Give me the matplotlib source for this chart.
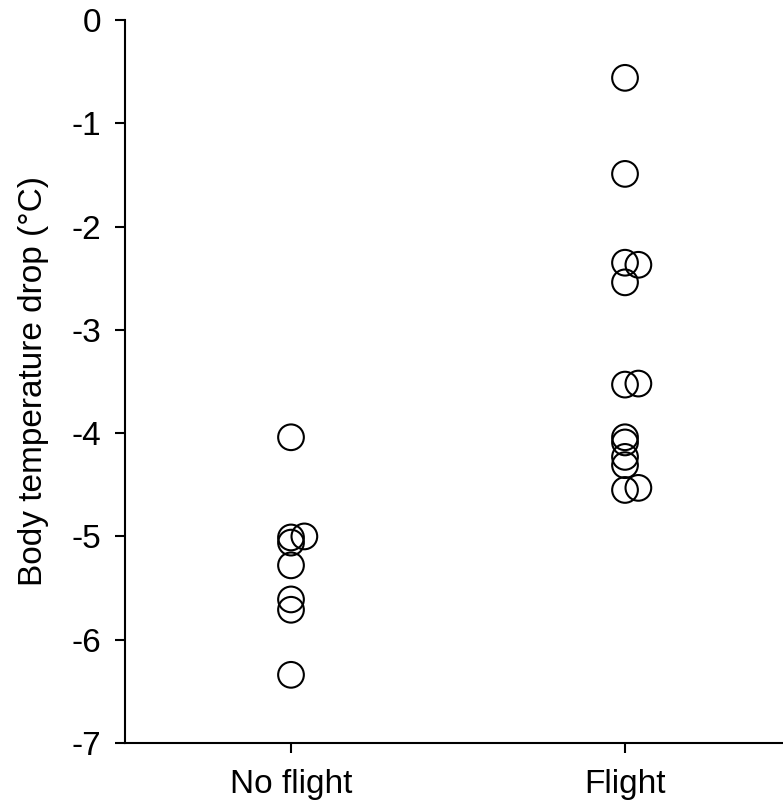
import matplotlib
matplotlib.use("Agg")
import matplotlib.pyplot as plt

plt.rcParams["font.family"] = ["Liberation Sans", "DejaVu Sans"]
plt.rcParams["axes.unicode_minus"] = False

# grupos y valores de caida de temperatura (°C)
grupos = ["No flight", "Flight"]
no_flight_x = [1, 1, 1.04, 1, 1, 1, 1, 1]
no_flight_y = [-4.04, -5.01, -5.00, -5.06, -5.28, -5.61, -5.71, -6.34]
flight_x = [2, 2, 2, 2.04, 2, 2, 2.04, 2, 2, 2, 2, 2, 2.04]
flight_y = [-0.56, -1.49, -2.35, -2.37, -2.54, -3.53, -3.52,
            -4.04, -4.09, -4.23, -4.31, -4.55, -4.53]

fig = plt.figure(figsize=(7.83, 8.06), dpi=100)
ax = fig.add_axes([125 / 783, 1 - 743 / 806, 1 - 125 / 783, (743 - 20) / 806])

estilo = dict(marker="o", s=18.5 ** 2, facecolors="none", edgecolors="black",
              linewidths=1.5, clip_on=False, zorder=3)
ax.scatter(no_flight_x, no_flight_y, **estilo)
ax.scatter(flight_x, flight_y, **estilo)

ax.set_xlim(0.503, 2.473)
ax.set_ylim(-7, 0)
ax.set_xticks([1, 2])
ax.set_xticklabels(grupos)
ax.set_yticks(range(-7, 1))
ax.set_ylabel("Body temperature drop (°C)", fontsize=24, labelpad=16)
ax.tick_params(labelsize=24, direction="out", length=7, width=1.5)
ax.tick_params(axis="y", pad=10)
ax.tick_params(axis="x", pad=12)

ax.spines["top"].set_visible(False)
ax.spines["right"].set_visible(False)
ax.spines["left"].set_linewidth(1.5)
ax.spines["bottom"].set_linewidth(1.5)

fig.savefig("out.png", dpi=100)
